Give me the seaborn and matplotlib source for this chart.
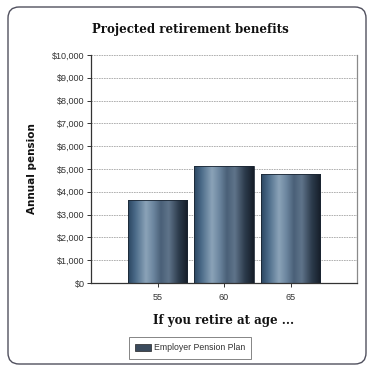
import numpy as np
import matplotlib
matplotlib.use('Agg')
import matplotlib.pyplot as plt
import seaborn as sns
from matplotlib.colors import LinearSegmentedColormap
from matplotlib.patches import FancyBboxPatch, Patch
from matplotlib.ticker import FuncFormatter, MultipleLocator

# Data
ages = ['55', '60', '65']
pension = [3650, 5130, 4780]
series_name = 'Employer Pension Plan'

sns.set_theme(style='white')
plt.rcParams['font.family'] = ['Liberation Sans', 'DejaVu Sans']

fig = plt.figure(figsize=(3.69, 3.72), dpi=100)
ax = fig.add_axes([91 / 369, 1 - 283 / 372, 266 / 369, 228 / 372])

# Rounded outer frame
frame = FancyBboxPatch((8 / 369, 8 / 372), 358 / 369, 357 / 372,
                       boxstyle='round,pad=0,rounding_size=0.03',
                       transform=fig.transFigure, facecolor='white',
                       edgecolor='#50505e', linewidth=1.0, zorder=-10)
fig.patches.append(frame)
ax.set_facecolor('none')

sns.barplot(x=ages, y=pension, width=0.9, color='#3d5066', ax=ax, zorder=2)

# Cylinder-like gradient on each bar
grad = LinearSegmentedColormap.from_list('cyl', [
    (0.00, '#2a4560'), (0.12, '#4a6a88'), (0.30, '#8ba3b8'),
    (0.42, '#6d87a0'), (0.55, '#4a6078'), (0.68, '#5f748a'),
    (0.85, '#2c3b4c'), (1.00, '#151d28')])
g = np.linspace(0, 1, 256).reshape(1, -1)
for p in ax.patches:
    x0, y0 = p.get_x(), p.get_y()
    w, h = p.get_width(), p.get_height()
    im = ax.imshow(g, cmap=grad, aspect='auto', extent=(x0, x0 + w, y0, y0 + h),
                   zorder=2, interpolation='bicubic')
    im.set_clip_path(p)
    p.set_facecolor('none')
    p.set_edgecolor('#1b2633')
    p.set_linewidth(0.6)
    p.set_zorder(3)

ax.set_xlim(-1, 3)
ax.set_ylim(0, 10000)
ax.yaxis.set_major_locator(MultipleLocator(1000))
ax.yaxis.set_major_formatter(FuncFormatter(lambda v, _: f'${v:,.0f}'))

ax.grid(axis='y', color='#a5a5a5', linestyle=(0, (2, 1)), linewidth=0.6, zorder=0)
ax.set_axisbelow(True)
for s in ['left', 'bottom']:
    ax.spines[s].set_color('#333333')
    ax.spines[s].set_linewidth(0.9)
ax.spines['right'].set_color('#8a8a8a')
ax.spines['right'].set_linewidth(0.9)
ax.spines['top'].set_visible(False)

ax.tick_params(axis='both', which='major', length=3, width=0.7, color='#333333',
               labelsize=6.5, labelcolor='#333333', left=True, bottom=True)
ax.tick_params(axis='y', pad=1.5)
ax.tick_params(axis='x', pad=4)

ax.set_xlabel('If you retire at age ...', fontsize=8.5, fontweight='bold',
              family='DejaVu Serif', labelpad=9, color='#111111')
ax.set_ylabel('Annual pension', fontsize=7.5, fontweight='bold',
              family='DejaVu Sans', labelpad=11, color='#111111')
fig.text(190 / 369, 1 - 30 / 372, 'Projected retirement benefits', ha='center', va='center',
         fontsize=8.5, fontweight='bold', family='DejaVu Serif', color='#111111')

handle = Patch(facecolor='#3a4a5c', edgecolor='#222222', linewidth=0.5)
leg = fig.legend([handle], [series_name], loc='center',
                 bbox_to_anchor=(190 / 369, 1 - 348 / 372), fontsize=6.3,
                 frameon=True, fancybox=False, edgecolor='#666666',
                 handlelength=1.9, handleheight=0.8, handletextpad=0.3,
                 borderpad=0.7, borderaxespad=0)
leg.get_frame().set_linewidth(0.7)
for t in leg.get_texts():
    t.set_color('#333333')

fig.savefig('out.png', dpi=100)
